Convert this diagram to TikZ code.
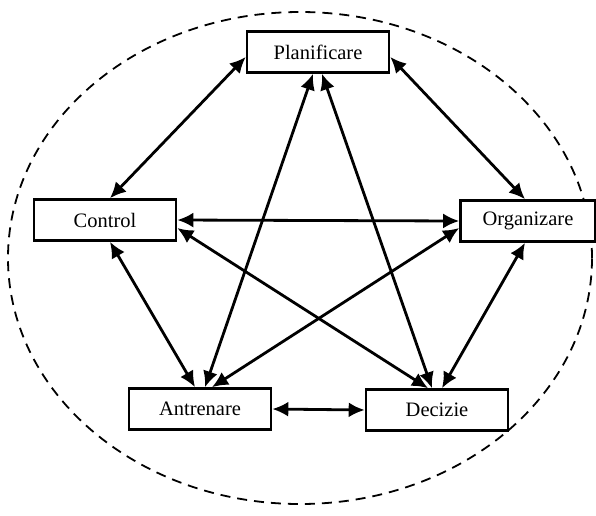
\documentclass[tikz,border=0pt]{standalone}
\usepackage{fontspec}
\setmainfont{Liberation Serif}
\usetikzlibrary{arrows.meta,calc}
\begin{document}
\begin{tikzpicture}[x=1pt,y=-1pt,
  box/.style={draw,line width=2.6pt,fill=white,minimum width=142pt,minimum height=41pt,inner sep=0pt,font=\fontsize{20.5}{24}\selectfont},
  link/.style={line width=2.8pt,{Latex[length=16pt,width=15pt]}-{Latex[length=16pt,width=15pt]}},
  ring/.style={line width=1.8pt,dash pattern=on 10pt off 7pt}]
\useasboundingbox (0,0) rectangle (596,515);
\draw[ring] (300,258) ellipse [x radius=292pt, y radius=246pt];
\node[box] (P) at (318,52) {Planificare};
\node[box] (C) at (105,220) {Control};
\node[box,minimum width=135pt] (O) at (528,221) {Organizare};
\node[box] (A) at (200,409) {Antrenare};
\node[box] (D) at (437,410) {Decizie};
\draw[link] ($(P.west)+(0,5)$) -- ($(C.north)+(5,0)$);
\draw[link] ($(P.east)+(0,5)$) -- ($(O.north)+(-3,0)$);
\draw[link] ($(P.south)+(-5,0)$) -- ($(A.north)+(5,0)$);
\draw[link] ($(P.south)+(4,0)$) -- ($(D.north)+(-5,0)$);
\draw[link] (C.east) -- (O.west);
\draw[link] ($(C.east)+(0,8)$) -- ($(D.north)+(-9,0)$);
\draw[link] ($(A.north)+(12,0)$) -- ($(O.west)+(0,7)$);
\draw[link] ($(C.south)+(5,0)$) -- ($(A.north)+(-5,0)$);
\draw[link] ($(O.south)+(-3,0)$) -- ($(D.north)+(5,0)$);
\draw[link] (A.east) -- (D.west);
\end{tikzpicture}
\end{document}
